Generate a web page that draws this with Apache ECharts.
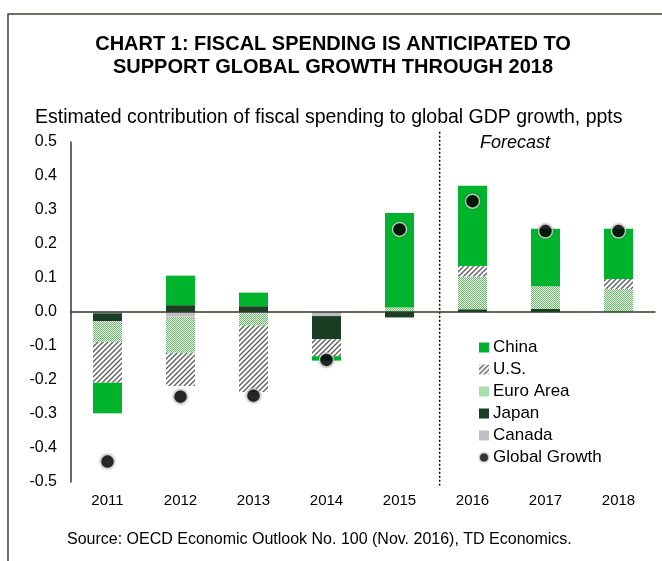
<!DOCTYPE html>
<html>
<head>
<meta charset="utf-8">
<script src="https://cdn.jsdelivr.net/npm/echarts@6/dist/echarts.min.js"></script>
<style>
  html, body { margin: 0; padding: 0; background: #ffffff; }
  #chart { width: 662px; height: 561px; }
</style>
</head>
<body>
<div id="chart"></div>
<script>
// Contribution of fiscal spending to global GDP growth, percentage points
const years   = ['2011', '2012', '2013', '2014', '2015', '2016', '2017', '2018'];
const canada  = [-0.004, -0.014, -0.004, -0.012, 0.000, 0.000, 0.000, 0.000];
const japan   = [-0.023,  0.020,  0.017, -0.068, -0.016, 0.008, 0.010, 0.001];
const euro    = [-0.061, -0.106, -0.036,  0.000,  0.013, 0.096, 0.066, 0.067];
const us      = [-0.120, -0.098, -0.195, -0.050,  0.000, 0.031, 0.000, 0.029];
const china   = [-0.090,  0.087,  0.040, -0.013,  0.278, 0.236, 0.169, 0.148];
const global  = [-0.440, -0.249, -0.246, -0.141,  0.243, 0.326, 0.238, 0.238];
const yTicks  = { min: -0.5, max: 0.5, step: 0.1 };
// Forecast divider, on a 0..7 category-index scale (between 2015 and 2016)
const dividerLine = [[4.55, 0.53], [4.55, -0.51]];

const FONT = '"Liberation Sans", Arial, sans-serif';

function hatchPattern() {
  const c = document.createElement('canvas');
  c.width = 5; c.height = 5;
  const g = c.getContext('2d');
  g.fillStyle = '#ffffff';
  g.fillRect(0, 0, 5, 5);
  g.strokeStyle = '#606060';
  g.lineWidth = 1.4;
  g.beginPath();
  g.moveTo(-1, 6); g.lineTo(6, -1);
  g.moveTo(-1, 1); g.lineTo(1, -1);
  g.moveTo(4, 6); g.lineTo(6, 4);
  g.stroke();
  return c;
}

function checkerPattern() {
  const c = document.createElement('canvas');
  c.width = 2; c.height = 2;
  const g = c.getContext('2d');
  g.fillStyle = '#ffffff';
  g.fillRect(0, 0, 2, 2);
  g.fillStyle = '#58c258';
  g.fillRect(0, 0, 1, 1);
  g.fillRect(1, 1, 1, 1);
  return c;
}

const chart = echarts.init(document.getElementById('chart'), null, { renderer: 'canvas' });

function barSeries(name, data, color) {
  return {
    name: name,
    type: 'bar',
    stack: 'fiscal',
    data: data,
    barWidth: 29,
    itemStyle: { color: color },
    emphasis: { disabled: true },
    z: 2
  };
}

const option = {
  animation: false,
  backgroundColor: '#ffffff',
  textStyle: { fontFamily: FONT },
  title: [
    {
      text: 'Estimated contribution of fiscal spending to global GDP growth, ppts',
      left: 30,
      top: 103,
      textStyle: { fontFamily: FONT, fontSize: 19.5, fontWeight: 'normal', color: '#000' }
    },
    {
      text: 'Source: OECD Economic Outlook No. 100 (Nov. 2016), TD Economics.',
      left: 62,
      top: 527,
      textStyle: { fontFamily: FONT, fontSize: 16, fontWeight: 'normal', color: '#000' }
    }
  ],
  graphic: [
    {
      type: 'rect',
      shape: { x: 8, y: 14, width: 720, height: 620 },
      style: { fill: 'none', stroke: '#3a4630', lineWidth: 1.5 },
      silent: true
    },
    {
      type: 'text',
      x: 333,
      y: 33,
      style: {
        text: 'CHART 1: FISCAL SPENDING IS ANTICIPATED TO\nSUPPORT GLOBAL GROWTH THROUGH 2018',
        font: 'bold 20px ' + FONT,
        fill: '#000',
        align: 'center',
        lineHeight: 23
      }
    },
    {
      type: 'text',
      x: 480,
      y: 134,
      style: { text: 'Forecast', font: 'italic 18px ' + FONT, fill: '#000' }
    }
  ],
  legend: {
    orient: 'vertical',
    left: 473,
    top: 334,
    itemWidth: 10,
    itemHeight: 10,
    itemGap: 5,
    textStyle: { fontFamily: FONT, fontSize: 17, color: '#000', lineHeight: 17, padding: [0, 0, 0, -1] },
    data: [
      { name: 'China', icon: 'rect' },
      { name: 'U.S.', icon: 'rect' },
      { name: 'Euro Area', icon: 'rect' },
      { name: 'Japan', icon: 'rect' },
      { name: 'Canada', icon: 'rect' },
      { name: 'Global Growth', icon: 'circle' }
    ],
    selectedMode: false
  },
  grid: { left: 71, right: 7, top: 142, bottom: 79, containLabel: false },
  xAxis: [
    {
      type: 'category',
      data: years,
      z: 5,
      axisLine: { onZero: true, lineStyle: { color: '#2f3a28', width: 1.5 } },
      axisTick: { show: false },
      axisLabel: { margin: 11, fontFamily: FONT, fontSize: 15, color: '#000' },
      splitLine: { show: false }
    },
    {
      type: 'value',
      min: -0.5,
      max: 7.5,
      show: false
    }
  ],
  yAxis: {
    type: 'value',
    min: yTicks.min,
    max: yTicks.max,
    interval: yTicks.step,
    z: 5,
    axisLine: { show: true, onZero: false, lineStyle: { color: '#2f3a28', width: 1.5 } },
    axisTick: { show: false },
    splitLine: { show: false },
    axisLabel: {
      margin: 14,
      fontFamily: FONT,
      fontSize: 16,
      color: '#000',
      formatter: function (v) { return v.toFixed(1); }
    }
  },
  series: [
    barSeries('Canada', canada, '#bfbfc4'),
    barSeries('Japan', japan, '#1a3d23'),
    barSeries('Euro Area', euro, { image: checkerPattern(), repeat: 'repeat' }),
    barSeries('U.S.', us, { image: hatchPattern(), repeat: 'repeat' }),
    barSeries('China', china, '#00b32c'),
    {
      name: 'Global Growth',
      type: 'scatter',
      data: global,
      symbol: 'circle',
      symbolSize: 14,
      z: 10,
      itemStyle: {
        color: '#000',
        borderColor: '#e2e2e2',
        borderWidth: 1.5,
        shadowBlur: 2,
        shadowColor: 'rgba(0,0,0,0.3)'
      },
      emphasis: { disabled: true }
    },
    {
      name: 'divider',
      type: 'line',
      xAxisIndex: 1,
      data: dividerLine,
      clip: false,
      silent: true,
      symbol: 'none',
      lineStyle: { color: '#000', type: [2, 2], width: 1.5 },
      z: 4
    }
  ]
};

chart.setOption(option);
</script>
</body>
</html>
